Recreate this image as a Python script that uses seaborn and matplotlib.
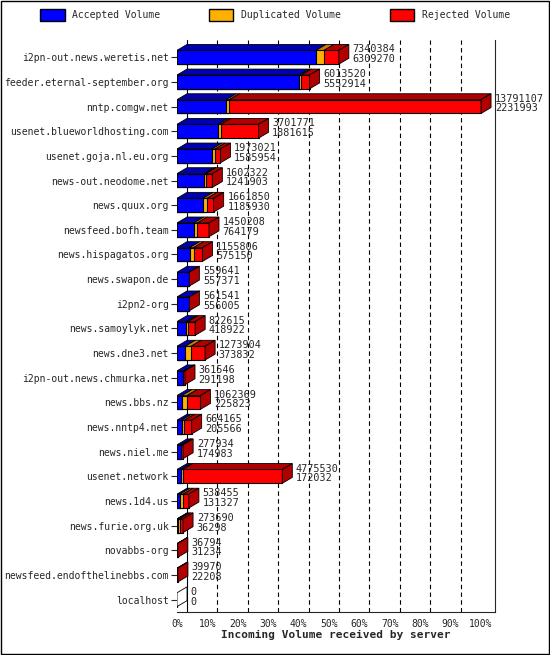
import numpy as np
import pandas as pd
import matplotlib.pyplot as plt
import seaborn as sns
from matplotlib.patches import Polygon, Patch

# === Data ===
servers = ["i2pn-out.news.weretis.net", "feeder.eternal-september.org", "nntp.comgw.net",
           "usenet.blueworldhosting.com", "usenet.goja.nl.eu.org", "news-out.neodome.net",
           "news.quux.org", "newsfeed.bofh.team", "news.hispagatos.org", "news.swapon.de",
           "i2pn2-org", "news.samoylyk.net", "news.dne3.net", "i2pn-out.news.chmurka.net",
           "news.bbs.nz", "news.nntp4.net", "news.niel.me", "usenet.network", "news.1d4.us",
           "news.furie.org.uk", "novabbs-org", "newsfeed.endofthelinebbs.com", "localhost"]
total = [7340384, 6013520, 13791107, 3701771, 1973021, 1602322, 1661850, 1450208, 1155806,
         559641, 561541, 822615, 1273904, 361546, 1062369, 664165, 277934, 4775530, 538455,
         273690, 36794, 39970, 0]
accepted = [6309270, 5552914, 2231993, 1881615, 1585954, 1241903, 1185930, 764179, 575150,
            557371, 556005, 418922, 373832, 291198, 225823, 205566, 174983, 172032, 131327,
            36298, 31234, 22208, 0]
duplicated = [360000, 90000, 140000, 110000, 140000, 70000, 180000, 160000, 180000,
              0, 0, 90000, 270000, 0, 230000, 130000, 20000, 90000, 140000, 90000, 0, 0, 0]

df = pd.DataFrame({"server": servers, "total": total, "accepted": accepted, "dup": duplicated})
vmax = df["total"].max()
df["acc_f"] = df["accepted"] / vmax
df["dup_f"] = (df["accepted"] + df["dup"]) / vmax
df["tot_f"] = df["total"] / vmax

sns.set_style("white")
plt.rcParams["font.family"] = ["DejaVu Sans Mono"]
plt.rcParams["font.size"] = 7

fig = plt.figure(figsize=(5.5, 6.55), dpi=100)
ax = fig.add_axes([177 / 550, 1 - 612 / 655, (495 - 177) / 550, (612 - 40) / 655])

front = {"tot_f": "#ff0000", "dup_f": "#ffb000", "acc_f": "#0000ff"}
top = {"tot_f": "#b00000", "dup_f": "#c08000", "acc_f": "#0000b0"}
bw = 0.56
for col in ["tot_f", "dup_f", "acc_f"]:
    sns.barplot(data=df, y="server", x=col, color=front[col], width=bw, ax=ax,
                edgecolor="black", linewidth=0.8, saturation=1, orient="h")

dx, dy = 0.033, 0.24
ax.set_xlim(0, 1.046)
ax.set_ylim(len(servers) - 0.5, -0.7)

# 3D top and side faces from the drawn bars
for i, r in df.iterrows():
    yt = i - bw / 2
    yb = i + bw / 2
    segs = [(0, r["acc_f"], "acc_f"), (r["acc_f"], r["dup_f"], "dup_f"), (r["dup_f"], r["tot_f"], "tot_f")]
    for x0, x1, c in segs:
        if x1 - x0 <= 0:
            continue
        ax.add_patch(Polygon([(x0, yt), (x1, yt), (x1 + dx, yt - dy), (x0 + dx, yt - dy)],
                             closed=True, fc=top[c], ec="black", lw=0.6, zorder=3))
    xe = r["tot_f"]
    ax.add_patch(Polygon([(xe, yt), (xe + dx, yt - dy), (xe + dx, yb - dy), (xe, yb)],
                         closed=True, fc="#b00000" if xe > 0 else "white", ec="black", lw=0.6, zorder=3))
    ax.text(xe + dx + 0.012, i - 0.12, f"{r['total']}\n{r['accepted']}", va="center", ha="left",
            fontsize=7.3, linespacing=0.95, zorder=4)

# dashed gridlines on the back wall
for g in np.arange(0.1, 1.0, 0.1):
    ax.axvline(g + dx, color="black", ls=(0, (4, 3)), lw=0.8, zorder=0)
ax.axvline(dx, color="black", lw=0.8, zorder=0)

ax.set_xticks(np.arange(0, 1.01, 0.1))
ax.set_xticklabels([f"{int(round(t * 100))}%" for t in np.arange(0, 1.01, 0.1)])
ax.tick_params(axis="x", length=3, pad=2)
ax.tick_params(axis="y", length=4, left=True, pad=2)
ax.set_ylabel("")
ax.set_xlabel("Incoming Volume received by server", fontweight="bold", fontsize=8, labelpad=1)
for s in ["top", "left"]:
    ax.spines[s].set_visible(False)
ax.spines["right"].set_linewidth(0.8)
ax.spines["bottom"].set_linewidth(0.8)

handles = [Patch(fc="#0000ff", ec="black"), Patch(fc="#ffb000", ec="black"), Patch(fc="#ff0000", ec="black")]
fig.legend(handles, ["Accepted Volume", "Duplicated Volume", "Rejected Volume"], ncol=3,
           loc="upper center", bbox_to_anchor=(0.5, 1.0), frameon=False, fontsize=7,
           handlelength=2.5, handleheight=1.6, columnspacing=5)
fig.patches.append(plt.Rectangle((0.002, 0.002), 0.996, 0.996, transform=fig.transFigure,
                                 fill=False, ec="black", lw=1))
fig.savefig("out.png", dpi=100)
